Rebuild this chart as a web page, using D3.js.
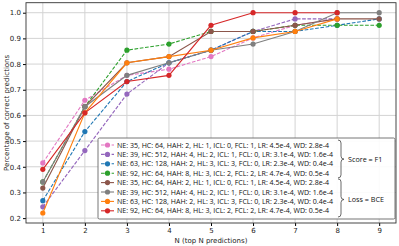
<!DOCTYPE html>
<html>
<head>
<meta charset="utf-8">
<script src="https://cdn.jsdelivr.net/npm/d3@7"></script>
<style>
  body { margin: 0; background: #fff; }
  svg text { font-family: "DejaVu Sans", sans-serif; fill: #222; }
  .legend text { font-family: "Open Sans", "Liberation Sans", sans-serif; fill: #111; }
</style>
</head>
<body>
<div id="chart"></div>
<script>
// x values and tick labels
const nValues = [1, 2, 3, 4, 5, 6, 7, 8, 9];
const yTicks = [0.2, 0.3, 0.4, 0.5, 0.6, 0.7, 0.8, 0.9, 1.0];

// one entry per run, in legend order
const runLabels = [
  'NE: 35, HC: 64, HAH: 2, HL: 1, ICL: 0, FCL: 1, LR: 4.5e-4, WD: 2.8e-4',
  'NE: 39, HC: 512, HAH: 4, HL: 2, ICL: 1, FCL: 0, LR: 3.1e-4, WD: 1.6e-4',
  'NE: 63, HC: 128, HAH: 2, HL: 3, ICL: 3, FCL: 0, LR: 2.3e-4, WD: 0.4e-4',
  'NE: 92, HC: 64, HAH: 8, HL: 3, ICL: 2, FCL: 2, LR: 4.7e-4, WD: 0.5e-4',
  'NE: 35, HC: 64, HAH: 2, HL: 1, ICL: 0, FCL: 1, LR: 4.5e-4, WD: 2.8e-4',
  'NE: 39, HC: 512, HAH: 4, HL: 2, ICL: 1, FCL: 0, LR: 3.1e-4, WD: 1.6e-4',
  'NE: 63, HC: 128, HAH: 2, HL: 3, ICL: 3, FCL: 0, LR: 2.3e-4, WD: 0.4e-4',
  'NE: 92, HC: 64, HAH: 8, HL: 3, ICL: 2, FCL: 2, LR: 4.7e-4, WD: 0.5e-4',
];

// score = F1 runs (dashed)
const f1Run35 = [0.415, 0.659, 0.756, 0.780, 0.829, 0.902, 0.951, 0.976];
const f1Run39 = [0.244, 0.463, 0.683, 0.805, 0.854, 0.927, 0.976, 0.976];
const f1Run63 = [0.268, 0.537, 0.732, 0.805, 0.854, 0.927, 0.927, 0.951, 0.976];
const f1Run92 = [0.341, 0.634, 0.854, 0.878, 0.927, 0.927, 0.951, 0.951, 0.951];
// loss = BCE runs (solid)
const bceRun35 = [0.317, 0.634, 0.805, 0.829, 0.927, 0.927, 0.951, 0.976, 0.976];
const bceRun39 = [0.341, 0.634, 0.756, 0.805, 0.854, 0.878, 0.927, 1.0, 1.0];
const bceRun63 = [0.220, 0.610, 0.805, 0.829, 0.854, 0.902, 0.927, 0.976];
const bceRun92 = [0.390, 0.610, 0.732, 0.756, 0.951, 1.0, 1.0, 1.0];

const seriesValues = [f1Run35, f1Run39, f1Run63, f1Run92, bceRun35, bceRun39, bceRun63, bceRun92];
const seriesColors = ['#e377c2', '#9467bd', '#1f77b4', '#2ca02c', '#8c564b', '#7f7f7f', '#ff7f0e', '#d62728'];
const seriesDashed = [true, true, true, true, false, false, false, false];

const groupLabels = ['Score = F1', 'Loss = BCE'];

// SVG
const width = 399;
const height = 246;
const plot = { left: 26, right: 396, top: 2.7, bottom: 223 };

const svg = d3
  .select('#chart')
  .append('svg')
  .attr('width', width)
  .attr('height', height);

// scales with matplotlib-like 5% padding
const xScale = d3.scaleLinear().domain([0.6, 9.4]).range([plot.left, plot.right]);
const yScale = d3.scaleLinear().domain([0.181, 1.039]).range([plot.bottom, plot.top]);

// grid
const grid = svg.append('g').attr('class', 'grid');
grid
  .selectAll('line.gx')
  .data(nValues)
  .join('line')
  .attr('x1', (d) => xScale(d))
  .attr('x2', (d) => xScale(d))
  .attr('y1', plot.top)
  .attr('y2', plot.bottom)
  .attr('stroke', '#d3d3d3')
  .attr('stroke-width', 1);
grid
  .selectAll('line.gy')
  .data(yTicks)
  .join('line')
  .attr('x1', plot.left)
  .attr('x2', plot.right)
  .attr('y1', (d) => yScale(d))
  .attr('y2', (d) => yScale(d))
  .attr('stroke', '#d3d3d3')
  .attr('stroke-width', 1);

// axes
const xAxis = d3.axisBottom(xScale).tickValues(nValues).tickFormat(d3.format('d')).tickSize(3).tickPadding(2);
const yAxis = d3.axisLeft(yScale).tickValues(yTicks).tickFormat(d3.format('.1f')).tickSize(3).tickPadding(2);

svg
  .append('g')
  .attr('transform', 'translate(0,' + plot.bottom + ')')
  .call(xAxis)
  .call((g) => g.select('.domain').remove())
  .call((g) => g.selectAll('text').style('font-size', '7px'));

svg
  .append('g')
  .attr('transform', 'translate(' + plot.left + ',0)')
  .call(yAxis)
  .call((g) => g.select('.domain').remove())
  .call((g) => g.selectAll('text').style('font-size', '7px'));

// frame
svg
  .append('rect')
  .attr('x', plot.left)
  .attr('y', plot.top)
  .attr('width', plot.right - plot.left)
  .attr('height', plot.bottom - plot.top)
  .attr('fill', 'none')
  .attr('stroke', '#333')
  .attr('stroke-width', 0.9);

// axis titles
svg
  .append('text')
  .attr('x', (plot.left + plot.right) / 2)
  .attr('y', 243)
  .attr('text-anchor', 'middle')
  .style('font-size', '7px')
  .text('N (top N predictions)');

svg
  .append('text')
  .attr('transform', 'translate(9,' + (plot.top + plot.bottom) / 2 + ') rotate(-90)')
  .attr('text-anchor', 'middle')
  .style('font-size', '7px')
  .text('Percentage of correct predictions');

// lines and markers
const line = d3
  .line()
  .x((d, i) => xScale(nValues[i]))
  .y((d) => yScale(d));

const series = svg
  .append('g')
  .selectAll('g')
  .data(seriesValues)
  .join('g');

series
  .append('path')
  .attr('d', (d) => line(d))
  .attr('fill', 'none')
  .attr('stroke', (d, i) => seriesColors[i])
  .attr('stroke-width', 1.1)
  .attr('stroke-dasharray', (d, i) => (seriesDashed[i] ? '3.7,1.6' : null));

series.each(function (vals, i) {
  d3.select(this)
    .selectAll('circle')
    .data(vals)
    .join('circle')
    .attr('cx', (d, j) => xScale(nValues[j]))
    .attr('cy', (d) => yScale(d))
    .attr('r', 2.6)
    .attr('fill', seriesColors[i]);
});

// legend
const legend = svg.append('g').attr('class', 'legend');
const lg = { x: 98, y: 138, w: 297, h: 81, row0: 145, rowStep: 9.4 };

legend
  .append('rect')
  .attr('x', lg.x)
  .attr('y', lg.y)
  .attr('width', lg.w)
  .attr('height', lg.h)
  .attr('rx', 1.5)
  .attr('fill', 'rgba(255,255,255,0.9)')
  .attr('stroke', '#666')
  .attr('stroke-width', 0.9);

const rows = legend
  .selectAll('g.row')
  .data(runLabels)
  .join('g')
  .attr('class', 'row')
  .attr('transform', (d, i) => 'translate(0,' + (lg.row0 + i * lg.rowStep) + ')');

rows
  .append('line')
  .attr('x1', 101)
  .attr('x2', 114)
  .attr('stroke', (d, i) => seriesColors[i])
  .attr('stroke-width', 1.1)
  .attr('stroke-dasharray', (d, i) => (seriesDashed[i] ? '3.7,1.6' : null));

rows
  .append('circle')
  .attr('cx', 107.5)
  .attr('r', 2.6)
  .attr('fill', (d, i) => seriesColors[i]);

const labelText = rows
  .append('text')
  .attr('x', 117)
  .attr('dy', '0.35em')
  .style('font-size', '7.2px')
  .text((d) => d);

// squeeze labels so the widest one ends near x = 333
const widest = d3.max(labelText.nodes(), (n) => n.getComputedTextLength());
const squeeze = 216 / widest;
labelText.each(function () {
  const w = this.getComputedTextLength();
  d3.select(this).attr('textLength', w * squeeze).attr('lengthAdjust', 'spacingAndGlyphs');
});

// braces grouping the runs
const braceX = 341;
const braces = [
  { top: lg.y + 2, bottom: lg.row0 + 3.5 * lg.rowStep, tip: lg.row0 + 1.5 * lg.rowStep },
  { top: lg.row0 + 3.5 * lg.rowStep + 1, bottom: lg.y + lg.h - 2, tip: lg.row0 + 5.8 * lg.rowStep },
];

function bracePath(b) {
  const c = 3;
  return (
    'M' + (braceX - c) + ',' + b.top +
    ' Q' + braceX + ',' + b.top + ' ' + braceX + ',' + (b.top + c) +
    ' L' + braceX + ',' + (b.tip - c) +
    ' Q' + braceX + ',' + b.tip + ' ' + (braceX + c) + ',' + b.tip +
    ' Q' + braceX + ',' + b.tip + ' ' + braceX + ',' + (b.tip + c) +
    ' L' + braceX + ',' + (b.bottom - c) +
    ' Q' + braceX + ',' + b.bottom + ' ' + (braceX - c) + ',' + b.bottom
  );
}

legend
  .selectAll('path.brace')
  .data(braces)
  .join('path')
  .attr('class', 'brace')
  .attr('d', bracePath)
  .attr('fill', 'none')
  .attr('stroke', '#444')
  .attr('stroke-width', 0.8);

legend
  .selectAll('text.group')
  .data(braces)
  .join('text')
  .attr('class', 'group')
  .attr('x', braceX + 7)
  .attr('y', (d) => d.tip)
  .attr('dy', '0.35em')
  .style('font-size', '7.2px')
  .text((d, i) => groupLabels[i]);
</script>
</body>
</html>
